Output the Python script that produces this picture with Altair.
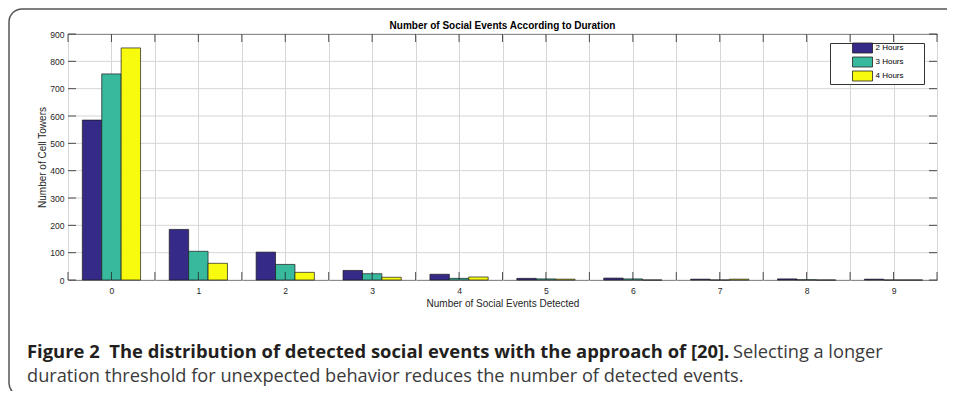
import altair as alt
import pandas as pd

# ---------------- data ----------------
categories = [0, 1, 2, 3, 4, 5, 6, 7, 8, 9]
series_names = ["2 Hours", "3 Hours", "4 Hours"]
hours2 = [585, 185, 102, 35, 21, 6, 7, 3, 4, 3]
hours3 = [754, 105, 57, 23, 6, 4, 4, 0, 1, 0]
hours4 = [849, 61, 28, 10, 11, 3, 0, 3, 0, 0]
colors = ["#352A87", "#38B99E", "#F9FB0E"]
y_tick_values = [0, 100, 200, 300, 400, 500, 600, 700, 800, 900]

chart_title = "Number of Social Events According to Duration"
x_title = "Number of Social Events Detected"
y_title = "Number of Cell Towers"
caption_bold = "Figure 2\u00a0 The distribution of detected social events with the approach of [20]."
caption_rest = "Selecting a longer"
caption_line2 = "duration threshold for unexpected behavior reduces the number of detected events."

# ---------------- layout (styles) ----------------
W, H = 869, 246
FONT = "Liberation Sans"
CAP_FONT = "Open Sans"
AX = "#262626"
GRID = "#d6d6d6"

rows = []
for name, vals in zip(series_names, [hours2, hours3, hours4]):
    for c, v in zip(categories, vals):
        rows.append({"events": c, "duration": name, "count": v})
df = pd.DataFrame(rows)

half_ticks = sorted(set([c - 0.5 for c in categories] + categories + [categories[-1] + 0.5]))
xt = pd.DataFrame({"pos": half_ticks})
yt = pd.DataFrame({"count": y_tick_values})
one = pd.DataFrame({"k": [0]})

yscale = alt.Scale(domain=[0, 900], nice=False, zero=True)
xq = alt.Scale(domain=[categories[0] - 0.5, categories[-1] + 0.5], nice=False, zero=False)


def y_axis():
    return alt.Axis(values=y_tick_values, grid=False,
                    ticks=False, domain=False, labelPadding=4,
                    labelFont=FONT, labelFontSize=8.6, labelColor=AX,
                    title=y_title, titleFont=FONT, titleFontSize=10, titleFontWeight="normal",
                    titleColor=AX, titlePadding=2)


frame = alt.Chart(one).mark_rect(
    filled=False, stroke="#555555", strokeWidth=1.5, cornerRadius=13
).encode(x=alt.value(-59), x2=alt.value(W + 80), y=alt.value(-25), y2=alt.value(H + 116))

ygrid = alt.Chart(yt).mark_rule(color=GRID, strokeWidth=1).encode(
    y=alt.Y("count:Q", scale=yscale, axis=y_axis()), x=alt.value(0), x2=alt.value(W))

bars = alt.Chart(df).mark_bar(stroke="#1a1a1a", strokeWidth=0.7, opacity=1).encode(
    x=alt.X("events:O", scale=alt.Scale(paddingInner=0.33, paddingOuter=0.165), axis=None),
    xOffset=alt.XOffset("duration:N", sort=series_names, scale=alt.Scale(paddingInner=0, paddingOuter=0)),
    y=alt.Y("count:Q", scale=yscale, axis=y_axis()),
    color=alt.Color("duration:N", scale=alt.Scale(domain=series_names, range=colors),
                    legend=alt.Legend(title="0000", titleOrient="right", titleOpacity=0,
                                      titleFontSize=8, titlePadding=1,
                                      orient="none", legendX=762, legendY=9,
                                      direction="vertical",
                                      symbolType="M-4,-2H4V2H-4Z", symbolSize=25,
                                      symbolStrokeColor="#222222", symbolStrokeWidth=0.8,
                                      symbolOpacity=1, symbolOffset=27.5,
                                      labelFont=FONT, labelFontSize=8, labelColor="#000000",
                                      labelOffset=9,
                                      strokeColor="#333333", fillColor="white",
                                      padding=1, rowPadding=0)),
)

xaxis_layer = alt.Chart(xt).mark_rule(color=AX, strokeWidth=0.8).encode(
    x=alt.X("pos:Q", scale=xq,
            axis=alt.Axis(values=half_ticks, grid=True, gridColor=GRID, gridWidth=1,
                          ticks=False, domain=False, labelPadding=6,
                          labelExpr="datum.value == floor(datum.value) ? format(datum.value, 'd') : ''",
                          labelFont=FONT, labelFontSize=8.6, labelColor=AX,
                          title=x_title, titleFont=FONT, titleFontSize=10, titleFontWeight="normal",
                          titleColor=AX, titlePadding=4)),
    y=alt.value(H - 8), y2=alt.value(H),
)
xtop = alt.Chart(xt).mark_rule(color=AX, strokeWidth=0.8).encode(
    x=alt.X("pos:Q", scale=xq, axis=None), y=alt.value(0), y2=alt.value(8))

yleft = alt.Chart(yt).mark_rule(color=AX, strokeWidth=0.8).encode(
    y=alt.Y("count:Q", scale=yscale, axis=y_axis()), x=alt.value(0), x2=alt.value(8))
yright = alt.Chart(yt).mark_rule(color=AX, strokeWidth=0.8).encode(
    y=alt.Y("count:Q", scale=yscale, axis=y_axis()), x=alt.value(W - 8), x2=alt.value(W))

title_mark = alt.Chart(one).mark_text(align="center", baseline="middle", font=FONT, fontSize=10,
                                      fontWeight="bold", color="#000000").encode(
    x=alt.value(W / 2), y=alt.value(-8), text=alt.value(chart_title))

cap1 = alt.Chart(one).mark_text(align="left", baseline="alphabetic", font=CAP_FONT, fontSize=18.4,
                                fontWeight="bold", color="#231f20").encode(
    x=alt.value(-41), y=alt.value(324), text=alt.value(caption_bold))
cap2 = alt.Chart(one).mark_text(align="left", baseline="alphabetic", font=CAP_FONT, fontSize=18.2,
                                fontWeight="normal", color="#3a3a3a").encode(
    x=alt.value(665), y=alt.value(324), text=alt.value(caption_rest))
cap3 = alt.Chart(one).mark_text(align="left", baseline="alphabetic", font=CAP_FONT, fontSize=18.2,
                                fontWeight="normal", color="#3a3a3a").encode(
    x=alt.value(-41), y=alt.value(347.5), text=alt.value(caption_line2))

chart = alt.layer(frame, ygrid, bars, xaxis_layer, xtop, yleft, yright, title_mark,
                  cap1, cap2, cap3).resolve_scale(
    x="independent"
).properties(
    width=W, height=H,
    autosize=alt.AutoSizeParams(type="none"),
    padding={"left": 60, "top": 26, "right": 10, "bottom": 111},
).configure_view(stroke="#404040", strokeWidth=1)

chart.save("out.html", embed_options={"renderer": "svg", "actions": False})
